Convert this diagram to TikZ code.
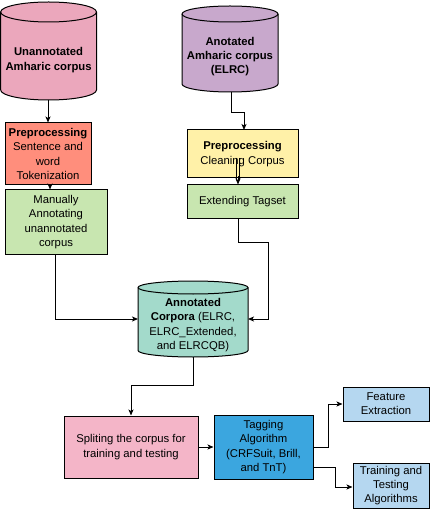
\documentclass[tikz,border=0pt]{standalone}
\usepackage{fontspec}
\setmainfont{Liberation Sans}
\usetikzlibrary{arrows.meta}
\definecolor{cpinkA}{HTML}{EBA7BC}
\definecolor{cpurple}{HTML}{C8A8CC}
\definecolor{csalmon}{HTML}{FF8E7C}
\definecolor{cgreen}{HTML}{C8E6B0}
\definecolor{cyellow}{HTML}{FFF1A8}
\definecolor{cteal}{HTML}{A3DACB}
\definecolor{cpinkB}{HTML}{F4B5C8}
\definecolor{cblue}{HTML}{3BA6DF}
\definecolor{clblue}{HTML}{B5D7F0}
\tikzset{
  boxnode/.style={draw=black, line width=1pt, rectangle, inner sep=0pt, align=center,
    font=\fontsize{11.3pt}{14.2pt}\selectfont},
  cyltext/.style={inner sep=0pt, align=center, font=\fontsize{11.3pt}{14.2pt}\selectfont},
  cylshape/.style={draw=black, line width=1pt},
  conn/.style={draw=black, line width=0.9pt, -{Stealth[length=6pt,width=5pt,inset=1.5pt]}},
  plainline/.style={draw=black, line width=0.9pt}
}
\begin{document}
\begin{tikzpicture}[x=1pt,y=-1pt]
\useasboundingbox (0,0) rectangle (430,510);

% ---- cylinders ----
\filldraw[cylshape, fill=cpinkA] (0.7,12) -- (0.7,90) arc[start angle=180,end angle=360,x radius=47.9pt,y radius=10pt] -- (96.5,12) arc[start angle=0,end angle=180,x radius=47.9pt,y radius=10pt] -- cycle;
\draw[cylshape] (0.7,12) arc[start angle=180,end angle=360,x radius=47.9pt,y radius=10pt];
\node[cyltext] (cyl1) at (48.6,60) {\textbf{Unannotated}\\\textbf{Amharic corpus}};
\coordinate (cyl1b) at (48,100);

\filldraw[cylshape, fill=cpurple] (182,14) -- (182,84) arc[start angle=180,end angle=360,x radius=48pt,y radius=8pt] -- (278,14) arc[start angle=0,end angle=180,x radius=48pt,y radius=8pt] -- cycle;
\draw[cylshape] (182,14) arc[start angle=180,end angle=360,x radius=48pt,y radius=8pt];
\node[cyltext] (cyl2) at (230,56.5) {\textbf{Anotated}\\\textbf{Amharic corpus}\\\textbf{(ELRC)}};
\coordinate (cyl2b) at (231,92);

\filldraw[cylshape, fill=cteal] (138,287.5) -- (138,350.5) arc[start angle=180,end angle=360,x radius=55pt,y radius=6.5pt] -- (248,287.5) arc[start angle=0,end angle=180,x radius=55pt,y radius=6.5pt] -- cycle;
\draw[cylshape] (138,287.5) arc[start angle=180,end angle=360,x radius=55pt,y radius=6.5pt];
\node[cyltext] (cyl3) at (193,325) {\textbf{Annotated}\\\textbf{Corpora} (ELRC,\\ELRC\_Extended,\\and ELRCQB)};
\coordinate (cyl3l) at (138,319);
\coordinate (cyl3r) at (248,319);
\coordinate (cyl3b) at (193,357);

% ---- boxes ----
\node[boxnode, fill=csalmon, minimum width=86pt, minimum height=62pt] (pre1) at (48,154)
  {\textbf{Preprocessing}\\Sentence and\\word\\Tokenization};
\node[boxnode, fill=cgreen, minimum width=102pt, minimum height=64pt] (man) at (56,222)
  {Manually\\Annotating\\unannotated\\corpus};
\node[boxnode, fill=cyellow, minimum width=111pt, minimum height=48pt] (pre2) at (242.5,154)
  {\textbf{Preprocessing}\\Cleaning Corpus};
\node[boxnode, fill=cgreen, minimum width=111pt, minimum height=34pt] (ext) at (242.5,202)
  {Extending Tagset};
\node[boxnode, fill=cpinkB, minimum width=134pt, minimum height=62pt] (split) at (131,447)
  {Spliting the corpus for\\training and testing};
\node[boxnode, fill=cblue, minimum width=99pt, minimum height=64pt] (tag) at (263.5,447)
  {Tagging\\Algorithm\\(CRFSuit, Brill,\\and TnT)};
\node[boxnode, fill=clblue, minimum width=86pt, minimum height=34pt] (feat) at (386,404)
  {Feature\\Extraction};
\node[boxnode, fill=clblue, minimum width=76pt, minimum height=45pt] (train) at (391,485.5)
  {Training and\\Testing\\Algorithms};

% ---- connectors ----
\draw[conn] (cyl1b) -- (pre1.north);
\draw[conn] ([xshift=2pt]pre1.south) -- ([xshift=-6pt]man.north);
\draw[conn] (cyl2b) |- (244,112) -- (244,130);
\coordinate (p2in) at (238,158);
\coordinate (e2) at (p2in |- ext.north);
\draw[plainline] ([xshift=-1.6pt]p2in) -- ([xshift=-1.6pt,yshift=4pt]e2);
\draw[plainline] ([xshift=1.6pt]p2in) -- ([xshift=1.6pt,yshift=4pt]e2);
\draw[conn] ([yshift=8pt]e2) -- (e2);
\draw[conn] (man.south -| 55,0) -- (55,319) -- (cyl3l);
\draw[conn] (ext.south -| 238,0) -- (238,242) -- (268,242) -- (268,319) -- (cyl3r);
\draw[conn] (cyl3b) -- (193,385) -- (131,385) -- (split.north);
\draw[conn] (split.east) -- (tag.west);
\draw[conn] (313,447) -- (328,447) -- (328,404) -- (feat.west);
\draw[conn] (313,467) -- (335,467) -- (335,487) -- (train.west |- 0,487);
\end{tikzpicture}
\end{document}
